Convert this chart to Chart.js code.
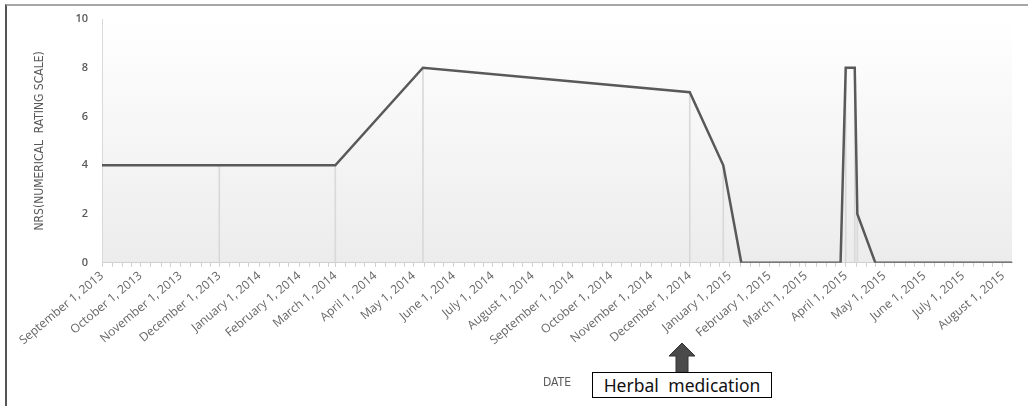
<!DOCTYPE html>
<html>
<head>
<meta charset="utf-8">
<script src="https://cdn.jsdelivr.net/npm/chart.js@4/dist/chart.umd.min.js"></script>
<style>
  html, body { margin: 0; padding: 0; background: #fff; }
  #wrap { position: relative; width: 1028px; height: 406px; overflow: hidden; }
  #frame { position: absolute; left: 5px; top: 4px; right: -10px; bottom: -10px;
           border-top: 2px solid #a6a6a6; border-left: 2px solid #555; }
  #note { position: absolute; left: 592px; top: 372px; width: 178px; height: 24px;
          border: 1px solid #000; background: #fff; font-family: "Noto Sans", sans-serif;
          font-size: 17.5px; line-height: 24px; text-align: center; color: #111; word-spacing: 5px; }
  #arrow { position: absolute; left: 668px; top: 343px; }
</style>
</head>
<body>
<div id="wrap">
  <canvas id="nrsChart" width="1028" height="406"></canvas>
  <div id="frame"></div>
  <svg id="arrow" width="28" height="30"><polygon points="14,0 27,13 20,13 20,30 8,30 8,13 1,13" fill="#4a4a4a" stroke="#333" stroke-width="1"/></svg>
  <div id="note">Herbal medication</div>
</div>
<script>
// Datos (fecha, NRS)
const dates = ['2013-09-01', '2013-12-01', '2014-03-01', '2014-05-08', '2014-12-01', '2014-12-27',
               '2015-01-10', '2015-03-28', '2015-04-01', '2015-04-08', '2015-04-10', '2015-04-24', '2015-08-08'];
const nrs = [4, 4, 4, 8, 7, 4, 0, 0, 8, 8, 2, 0, 0];
const yTicks = [0, 2, 4, 6, 8, 10];
const monthNames = ['January', 'February', 'March', 'April', 'May', 'June', 'July',
                    'August', 'September', 'October', 'November', 'December'];
const xStart = '2013-09-01';
const xEnd = '2015-08-08';

const toDay = s => Math.round(Date.parse(s + 'T00:00:00Z') / 86400000);
const narrow = "'DejaVu Sans Condensed', 'Liberation Sans', sans-serif";

// ticks: primer dia de cada mes + marcas menores
const xTicks = [];
for (let y = 2013, m = 8; y < 2015 || (y === 2015 && m <= 7); m++) {
    if (m > 11) { m = 0; y++; }
    [1, 9, 17, 24].forEach(d => {
        const v = Math.round(Date.UTC(y, m, d) / 86400000);
        if (v <= toDay(xEnd)) xTicks.push(v);
    });
}

const points = dates.map((d, i) => ({ x: toDay(d), y: nrs[i] }));

const plotBg = {
    id: 'plotBg',
    beforeDraw(chart) {
        const { ctx, chartArea: a } = chart;
        const g = ctx.createLinearGradient(0, a.top, 0, a.bottom);
        g.addColorStop(0, '#ffffff');
        g.addColorStop(1, '#ececec');
        ctx.save();
        ctx.fillStyle = g;
        ctx.fillRect(a.left, a.top, a.right - a.left, a.bottom - a.top);
        ctx.restore();
    }
};

new Chart(document.getElementById('nrsChart').getContext('2d'), {
    type: 'line',
    data: {
        datasets: [{
            type: 'line',
            data: points,
            borderColor: '#595959',
            borderWidth: 2.5,
            pointRadius: 0,
            tension: 0,
            order: 1,
        }, {
            // lineas verticales hasta el eje
            type: 'bar',
            data: points,
            backgroundColor: '#d9d9d9',
            barThickness: 1,
            order: 2,
        }],
    },
    options: {
        responsive: false,
        animation: false,
        layout: { padding: { top: 19, right: 16, left: 33, bottom: 14 } },
        plugins: { legend: { display: false }, tooltip: { enabled: false } },
        scales: {
            x: {
                type: 'linear',
                min: toDay(xStart),
                max: toDay(xEnd),
                offset: false,
                afterBuildTicks: s => { s.ticks = xTicks.map(v => ({ value: v })); },
                grid: { display: true, drawOnChartArea: false, offset: false, tickLength: 4, color: '#cfcfcf' },
                border: { display: true, color: '#d0d0d0' },
                ticks: {
                    autoSkip: false,
                    maxRotation: 40,
                    minRotation: 40,
                    padding: 2,
                    color: '#666666',
                    font: { family: 'Open Sans', size: 12 },
                    callback: v => {
                        const d = new Date(v * 86400000);
                        return d.getUTCDate() === 1 ? monthNames[d.getUTCMonth()] + ' 1, ' + d.getUTCFullYear() : '';
                    },
                },
                title: {
                    display: true,
                    text: 'DATE',
                    color: '#595959',
                    font: { family: narrow, size: 12 },
                    padding: { top: 26, bottom: 2 },
                },
            },
            y: {
                min: 0,
                max: 10,
                afterBuildTicks: s => { s.ticks = yTicks.map(v => ({ value: v })); },
                afterFit: s => { s.width = 69; },
                grid: { display: false },
                border: { display: true, color: '#d9d9d9' },
                ticks: {
                    padding: 6,
                    color: '#595959',
                    font: { family: 'Open Sans', size: 11, weight: '600' },
                },
                title: {
                    display: true,
                    text: 'NRS(NUMERICAL  RATING SCALE)',
                    color: '#595959',
                    font: { family: narrow, size: 12 },
                    padding: { top: 0, bottom: 15 },
                },
            },
        },
    },
    plugins: [plotBg],
});
</script>
</body>
</html>
